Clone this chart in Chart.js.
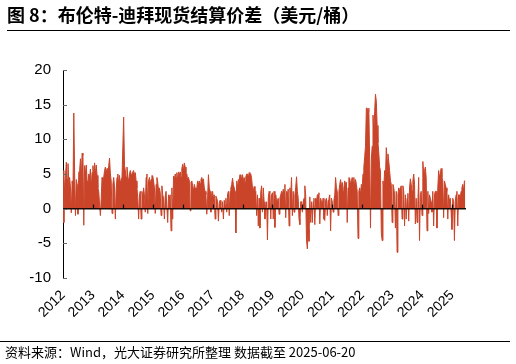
<!DOCTYPE html>
<html>
<head>
<meta charset="utf-8">
<script src="https://cdn.jsdelivr.net/npm/chart.js@4.4.1/dist/chart.umd.min.js"></script>
<style>
  body { margin: 0; background: #fff; }
  #wrap { position: relative; width: 516px; height: 364px; overflow: hidden; }
  #title { position: absolute; left: 7px; top: 4px; font: bold 18px "Noto Sans CJK SC", sans-serif; line-height: 20px; color: #000; white-space: nowrap; }
  #rule1 { position: absolute; left: 7px; top: 30px; width: 503px; height: 1px; background: #000; }
  #rule2 { position: absolute; left: 0px; top: 341px; width: 510px; height: 1px; background: #000; }
  #foot { position: absolute; left: 5px; top: 343px; font: 13px "Noto Sans CJK SC", sans-serif; line-height: 18px; color: #000; white-space: nowrap; }
  canvas { position: absolute; left: 0; top: 0; }
</style>
</head>
<body>
<div id="wrap">
  <canvas id="spread" width="516" height="364"></canvas>
  <div id="title">图 8：布伦特-迪拜现货结算价差（美元/桶）</div>
  <div id="rule1"></div>
  <div id="rule2"></div>
  <div id="foot">资料来源：Wind，光大证券研究所整理 数据截至 2025-06-20</div>
</div>
<script>
// 布伦特-迪拜价差, roughly 3 readings a month (USD/bbl)
const years = [2012, 2013, 2014, 2015, 2016, 2017, 2018, 2019, 2020, 2021, 2022, 2023, 2024, 2025];
const yearTicks = [2012, 2013, 2014, 2015, 2016, 2017, 2018, 2019, 2020, 2021, 2022, 2023, 2024, 2025];
const yTicks = [-10, -5, 0, 5, 10, 15, 20];

const v2012 = [5.5, -2.0, 3.5, 4.8, 6.7, 4.2, 6.5, 3.5, 4.5, 3.0, -0.6, 4.0, 2.5, 13.8, 5.0, -1.0, 4.2, 3.5, -0.8, 5.2, 5.5, 7.2, 4.5, 8.0, 7.7, -2.4, 6.2, 5.0, 6.3, 4.0, 3.2, 5.0, 4.5, 5.7, 3.0, 5.2];
const v2013 = [6.2, 4.5, 6.6, 5.0, 6.3, 4.8, 3.0, 2.5, 0.5, -1.0, 1.5, 4.5, 3.5, 4.5, 5.5, 6.0, 5.0, 5.8, 4.5, 6.2, 7.3, 5.0, 4.0, -0.7, 3.5, 4.5, 3.2, -1.5, 2.8, 4.5, 5.0, 3.5, 4.8, 3.6, 4.2, 4.5];
const v2014 = [4.5, 13.2, 6.2, 5.5, 4.5, 6.0, 4.5, 4.0, 5.0, 5.5, 5.0, 4.5, 5.3, 5.5, 4.8, 5.2, 4.0, 3.0, 1.5, -1.5, 2.0, 2.5, -1.5, 2.5, 1.5, 3.0, 2.0, -0.5, 4.5, 5.0, -0.7, 4.0, 4.5, 3.5, 4.2, 4.8];
const v2015 = [4.7, 4.0, 3.0, -0.7, 3.5, 4.5, 3.8, 2.5, 3.0, 2.3, -1.0, 3.3, 2.0, 1.5, -1.5, 1.8, 2.5, 2.5, -2.0, 2.0, 1.5, 2.0, -3.2, 3.0, -1.5, 4.7, 4.2, 5.0, 4.5, 5.2, 4.0, 5.3, 4.8, 5.3, 4.5, 5.8];
const v2016 = [6.4, 5.5, 6.6, 6.0, 4.5, 5.0, 4.0, 4.5, 4.0, -0.3, 3.8, 4.0, 3.3, 2.5, 3.5, 3.0, 2.5, 3.0, 4.0, 3.5, 4.0, 3.6, 4.2, 4.5, 4.0, 4.3, 3.0, 2.5, 2.0, -0.8, 1.5, 4.9, 3.0, 2.5, -0.5, 2.0];
const v2017 = [2.5, 1.5, 2.0, -1.5, 1.8, 1.5, 1.0, -1.8, 0.8, 1.2, 0.5, -0.5, 1.0, -1.5, 1.2, 0.5, 1.5, -0.5, 2.0, 2.5, -1.0, 2.5, 3.0, 3.5, 4.4, 3.5, 3.0, 2.5, -3.5, 4.0, 3.0, 4.2, 4.0, 4.9, 3.5, 4.5];
const v2018 = [4.9, 4.0, 4.5, 3.8, 4.6, 5.0, 5.0, 4.5, 5.2, 4.8, 5.0, 4.3, 3.0, 2.5, 3.2, 2.0, 2.5, -1.0, 2.0, -2.5, 1.5, -2.8, 2.5, 3.3, -0.5, 3.0, 1.0, -1.5, 0.5, 1.0, -4.5, 1.5, 2.5, 2.3, -1.5, 2.0];
const v2019 = [2.3, -1.5, 2.5, -2.7, 2.0, 1.0, 1.2, 1.5, -0.8, 1.5, 2.0, 2.5, 2.0, 2.8, 2.5, 3.5, -1.3, 2.5, 2.0, 2.8, -2.5, 3.0, 2.0, 4.5, -1.0, 2.5, -0.5, 2.0, 3.0, 4.6, 2.5, 1.5, -1.5, -2.3, 1.0, 1.0];
const v2020 = [-0.5, 1.0, 1.5, 3.3, 2.0, -4.5, -5.8, -3.0, -4.7, 1.7, -2.0, 1.0, -2.0, 1.0, 1.5, -2.3, 1.5, 1.0, 2.0, 2.0, 2.3, -2.2, 1.5, 1.0, 0.5, 1.5, -1.5, -1.7, 1.2, 1.5, -1.0, 1.2, 1.5, 2.0, -3.2, 1.5];
const v2021 = [1.0, -0.5, 1.2, 2.0, 4.5, 3.0, 2.5, -1.0, 2.5, 3.5, 4.2, 3.0, 3.8, 2.5, 3.0, 4.0, 3.5, 3.8, -2.0, 3.0, 4.5, 4.4, 3.5, 4.0, 4.5, 3.8, 4.5, 3.0, 4.2, 3.5, 2.5, -4.3, 2.5, 3.0, 2.0, 3.5];
const v2022 = [3.0, 5.0, 6.0, 7.5, 9.0, 14.5, 14.5, 14.0, 14.5, 7.0, -2.8, 7.0, 9.0, 13.5, 11.0, 14.0, 16.5, 15.5, 12.0, 9.5, 8.0, 6.0, 5.5, -3.5, -4.6, 4.0, 3.0, 5.5, 4.5, 8.8, 7.0, 7.9, 6.8, 5.5, 4.0, 3.5];
const v2023 = [-2.0, 3.5, 3.0, 2.0, -2.8, 2.5, -6.3, 2.0, 3.0, 2.5, 3.0, 3.3, -1.5, 3.3, 2.5, -2.5, 2.0, -1.5, 1.5, 2.2, -1.8, 3.0, 4.3, 3.5, 2.5, 4.0, 5.0, 3.5, -2.2, 1.5, -2.0, 1.0, 4.5, -4.6, 2.0, 2.5];
const v2024 = [-1.0, 6.8, 5.0, 5.5, 6.0, 4.5, -3.2, 2.5, -0.7, 2.0, 1.5, 1.0, -0.5, 2.5, -2.5, 2.0, 2.5, 2.5, -2.8, 3.0, 5.5, 4.5, 5.0, 5.8, 4.5, 4.0, -1.3, 4.0, 3.5, 3.0, 2.5, -1.5, 2.0, 1.0, 1.5, -0.5];
const v2025 = [-3.0, 1.5, 1.0, -4.6, 1.0, 2.0, 2.5, -2.5, 2.0, 2.0, 1.5, 2.5, 3.0, 3.5, 2.5, 4.0, 4.0];

const perYear = [v2012, v2013, v2014, v2015, v2016, v2017, v2018, v2019, v2020, v2021, v2022, v2023, v2024, v2025];

// each reading sits at year + i/36
let points = [];
for (let k = 0; k < years.length; k++) {
  perYear[k].forEach(function (v, i) {
    points.push({ x: years[k] + i / 36, y: v });
  });
}

const barColor = '#C94429';

// zero line with small year ticks, and short y ticks inside the axis
const axisMarks = {
  id: 'axisMarks',
  afterDatasetsDraw(chart) {
    const ctx = chart.ctx;
    const xs = chart.scales.x;
    const ys = chart.scales.y;
    const area = chart.chartArea;
    const y0 = ys.getPixelForValue(0);
    ctx.save();
    ctx.strokeStyle = '#1a0a05';
    ctx.lineWidth = 1.5;
    ctx.beginPath();
    ctx.moveTo(area.left, y0);
    ctx.lineTo(area.right, y0);
    ctx.stroke();
    ctx.lineWidth = 1.2;
    ctx.strokeStyle = '#000';
    yearTicks.forEach(function (t) {
      if (t === yearTicks[0]) return;
      const px = Math.round(xs.getPixelForValue(t)) + 0.5;
      ctx.beginPath();
      ctx.moveTo(px, y0);
      ctx.lineTo(px, y0 - 4);
      ctx.stroke();
    });
    ctx.strokeStyle = '#666';
    ctx.lineWidth = 1;
    yTicks.forEach(function (t) {
      const py = Math.round(ys.getPixelForValue(t)) + 0.5;
      ctx.beginPath();
      ctx.moveTo(area.left, py);
      ctx.lineTo(area.left + 4, py);
      ctx.stroke();
    });
    ctx.restore();
  }
};

new Chart(document.getElementById('spread'), {
  type: 'line',
  data: {
    datasets: [{
      label: '布伦特-迪拜现货结算价差',
      data: points,
      borderColor: barColor,
      backgroundColor: barColor,
      borderWidth: 1,
      pointRadius: 0,
      tension: 0,
      fill: 'origin'
    }]
  },
  options: {
    responsive: false,
    animation: false,
    devicePixelRatio: 1,
    layout: { padding: { top: 70, right: 50, left: 0, bottom: 0 } },
    plugins: { legend: { display: false }, tooltip: { enabled: false } },
    scales: {
      x: {
        type: 'linear',
        min: 2012,
        max: 2025.47,
        grid: { display: false },
        border: { display: false },
        afterFit: function (scale) { scale.height = 86; },
        afterBuildTicks: function (scale) {
          scale.ticks = yearTicks.map(function (v) { return { value: v }; });
        },
        ticks: {
          autoSkip: false,
          minRotation: 45,
          maxRotation: 45,
          padding: 1,
          color: '#000',
          font: { family: 'Liberation Sans', size: 14 },
          callback: function (v) { return String(v); }
        }
      },
      y: {
        min: -10,
        max: 20,
        grid: { display: false, drawTicks: false },
        border: { display: true, color: '#000', width: 1 },
        afterFit: function (scale) { scale.width = 63; },
        afterBuildTicks: function (scale) {
          scale.ticks = yTicks.map(function (v) { return { value: v }; });
        },
        ticks: {
          padding: 12,
          color: '#000',
          font: { family: 'Liberation Sans', size: 15 }
        }
      }
    }
  },
  plugins: [axisMarks]
});
</script>
</body>
</html>
